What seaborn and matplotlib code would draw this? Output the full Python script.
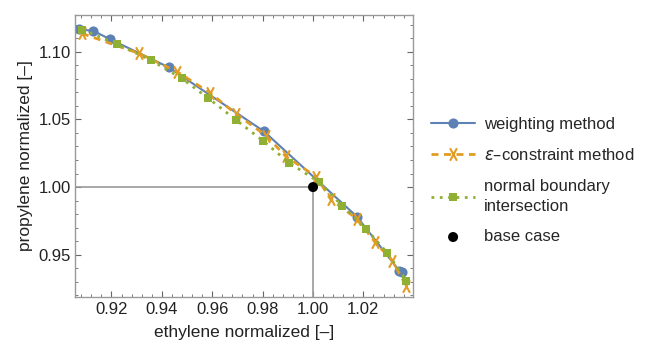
import seaborn as sns
import pandas as pd
import matplotlib.pyplot as plt
from matplotlib.path import Path
from matplotlib.ticker import MultipleLocator, AutoMinorLocator

# data
w_eth = [0.9072, 0.9128, 0.9196, 0.9427, 0.9805, 1.0174, 1.0342, 1.0355]
w_pro = [1.1165, 1.1154, 1.1091, 1.0885, 1.0412, 0.9782, 0.9383, 0.9371]

e_eth = [0.9083, 0.9308, 0.9460, 0.9593, 0.9693, 0.9814, 0.9891, 1.0013,
         1.0070, 1.0176, 1.0247, 1.0315, 1.0369]
e_pro = [1.1135, 1.0988, 1.0853, 1.0694, 1.0542, 1.0380, 1.0228, 1.0076,
         0.9910, 0.9763, 0.9591, 0.9456, 0.9272]

n_eth = [0.9083, 0.9222, 0.9355, 0.9478, 0.9584, 0.9693, 0.9801, 0.9905,
         1.0024, 1.0117, 1.0212, 1.0295, 1.0371]
n_pro = [1.1164, 1.1056, 1.0939, 1.0804, 1.0657, 1.0498, 1.0343, 1.0179,
         1.0037, 0.9860, 0.9689, 0.9513, 0.9309]

base_eth = [1.00]
base_pro = [1.00]

sns.set_theme(style='ticks')
plt.rcParams['font.family'] = ['Liberation Sans', 'DejaVu Sans']
plt.rcParams['mathtext.fontset'] = 'dejavusans'

fig, ax = plt.subplots(figsize=(6.56, 3.45), dpi=100)
fig.subplots_adjust(left=0.115, right=0.63, top=0.956, bottom=0.14)

xmin, xmax = 0.9057, 1.0398
ymin, ymax = 0.919, 1.127

# reference lines to base case
ax.plot([xmin, 1.0], [1.0, 1.0], color='#999999', lw=1.2, zorder=1)
ax.plot([1.0, 1.0], [ymin, 1.0], color='#999999', lw=1.2, zorder=1)

blue = '#5E81B5'
orange = '#E19C24'
green = '#8FB032'

# tall narrow cross like the Mathematica one
cross = Path([(-0.55, -1), (0.55, 1), (-0.55, 1), (0.55, -1)],
             [Path.MOVETO, Path.LINETO, Path.MOVETO, Path.LINETO])

sns.lineplot(x=w_eth, y=w_pro, sort=False, ax=ax, color=blue, lw=1.5,
             marker='o', markersize=7.3, markeredgewidth=0, markeredgecolor=blue,
             label='weighting method')
sns.lineplot(x=e_eth, y=e_pro, sort=False, ax=ax, color=orange, lw=2,
             linestyle=(0, (2.5, 2)), marker=cross, markersize=9,
             markeredgewidth=1.5, markeredgecolor=orange, markerfacecolor='none',
             label=r'$\varepsilon$–constraint method')
sns.lineplot(x=n_eth, y=n_pro, sort=False, ax=ax, color=green, lw=2,
             linestyle=(0, (1, 2)), marker='s', markersize=5.5, markeredgewidth=0,
             markeredgecolor=green, label='normal boundary\nintersection')
sns.scatterplot(x=base_eth, y=base_pro, ax=ax, color='black', s=52,
                edgecolor='none', zorder=5, label='base case')

ax.set_xlim(xmin, xmax)
ax.set_ylim(ymin, ymax)
ax.xaxis.set_major_locator(MultipleLocator(0.02))
ax.yaxis.set_major_locator(MultipleLocator(0.05))
ax.xaxis.set_minor_locator(AutoMinorLocator(5))
ax.yaxis.set_minor_locator(AutoMinorLocator(5))
ax.xaxis.set_major_formatter(plt.FuncFormatter(lambda v, p: f'{v:.2f}'))
ax.yaxis.set_major_formatter(plt.FuncFormatter(lambda v, p: f'{v:.2f}'))
ax.tick_params(which='both', direction='in', top=True, right=True,
               color='#666666', labelsize=12, labelcolor='#222222')
ax.tick_params(which='major', length=4.5, width=0.8)
ax.tick_params(which='minor', length=2.5, width=0.6)
for s in ax.spines.values():
    s.set_color('#999999')
    s.set_linewidth(1.0)

ax.set_xlabel('ethylene normalized [–]', fontsize=12.5, color='#222222', labelpad=6)
ax.set_ylabel('propylene normalized [–]', fontsize=12.5, color='#222222', labelpad=4)

leg = ax.legend(loc='upper left', bbox_to_anchor=(431 / 656, 1 - 117 / 345),
                bbox_transform=fig.transFigure, frameon=False, fontsize=12,
                handlelength=2.65, labelspacing=0.92, handletextpad=0.55,
                borderpad=0, borderaxespad=0)
for t in leg.get_texts():
    t.set_linespacing(1.45)

fig.savefig('out.png', dpi=100)
